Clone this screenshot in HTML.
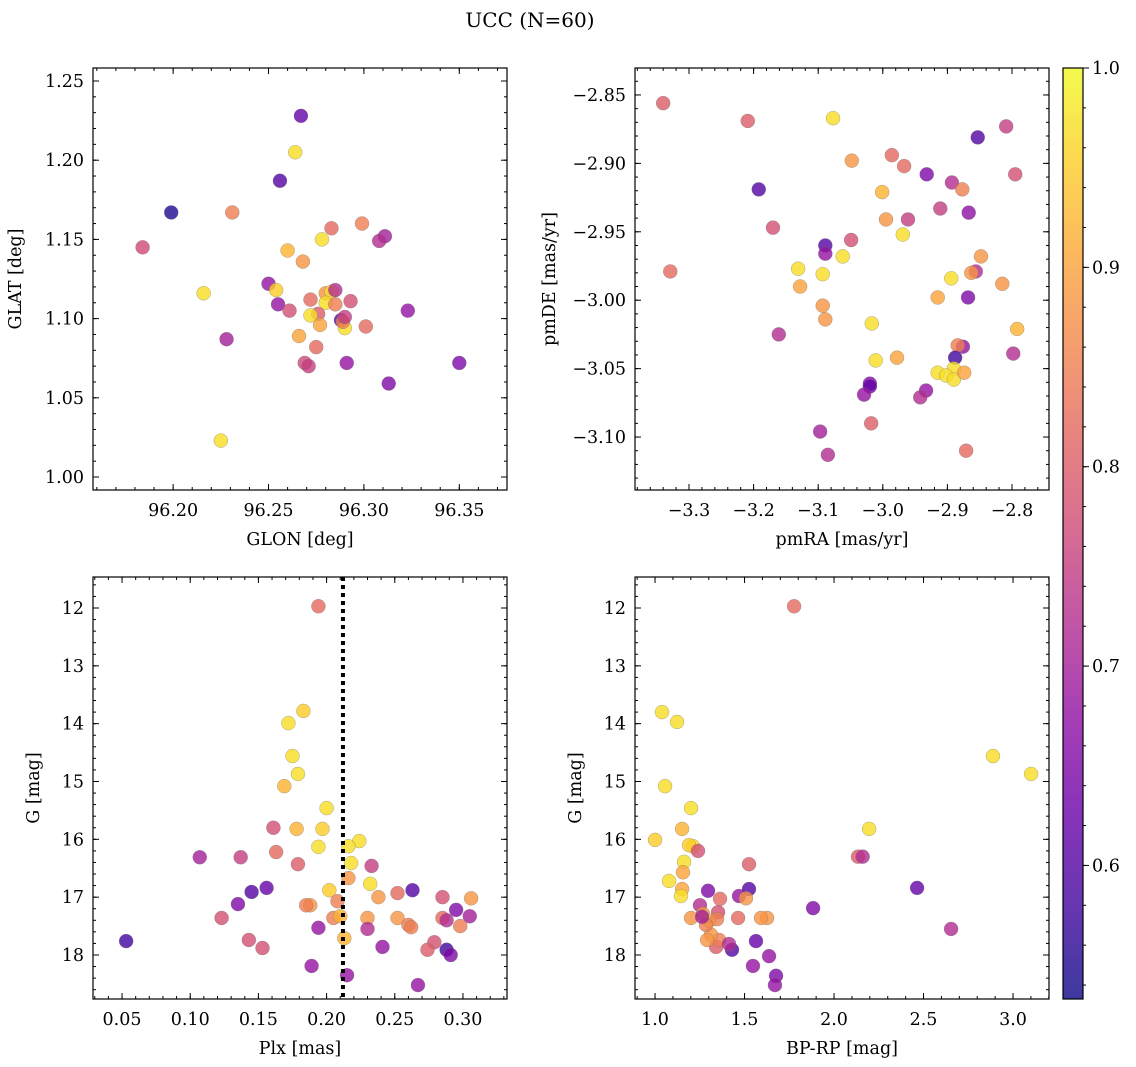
<!DOCTYPE html>
<html><head><meta charset="utf-8"><style>
body{margin:0;background:#fff;}
svg{display:block;font-family:"DejaVu Serif","Liberation Serif",serif;}
</style></head><body>
<svg id="fig" width="1136" height="1067" viewBox="0 0 1136 1067" xmlns="http://www.w3.org/2000/svg">
<text x="530" y="27" font-size="20" text-anchor="middle">UCC (N=60)</text>
</svg>
<script>
// ---- Panel 1: GLON / GLAT
const p1x=[96.267,96.264,96.256,96.199,96.231,96.184,96.216,96.228,96.225,96.283,96.278,96.260,96.268,96.299,96.311,96.308,96.250,96.254,96.255,96.261,96.272,96.280,96.283,96.285,96.280,96.276,96.272,96.266,96.275,96.269,96.271,96.288,96.290,96.289,96.293,96.301,96.291,96.313,96.323,96.350,96.285,96.277,96.290];
const p1y=[1.228,1.205,1.187,1.167,1.167,1.145,1.116,1.087,1.023,1.157,1.150,1.143,1.136,1.160,1.152,1.149,1.122,1.118,1.109,1.105,1.112,1.116,1.117,1.118,1.110,1.103,1.102,1.089,1.082,1.072,1.070,1.099,1.094,1.098,1.111,1.095,1.072,1.059,1.105,1.072,1.109,1.096,1.101];
const p1c=[0.62,0.97,0.6,0.55,0.85,0.77,0.97,0.7,0.97,0.82,0.97,0.92,0.88,0.85,0.7,0.72,0.68,0.95,0.68,0.78,0.82,0.88,0.97,0.72,0.97,0.8,0.97,0.9,0.82,0.77,0.75,0.6,0.97,0.85,0.78,0.82,0.68,0.65,0.68,0.65,0.85,0.9,0.75];
// ---- Panel 2: pmRA / pmDE
const p2x=[-3.340,-3.209,-3.077,-2.853,-2.809,-3.192,-3.048,-2.986,-2.967,-2.932,-2.893,-2.877,-2.795,-3.001,-2.911,-2.867,-2.961,-2.995,-3.170,-3.049,-2.969,-3.089,-3.089,-3.062,-2.848,-3.329,-3.131,-3.093,-2.856,-2.894,-2.863,-3.128,-2.815,-2.915,-2.868,-3.093,-3.089,-3.017,-2.792,-3.161,-2.876,-2.884,-2.798,-3.011,-2.978,-2.888,-2.890,-2.915,-2.902,-2.890,-2.874,-3.020,-3.020,-2.933,-2.942,-3.029,-3.018,-3.097,-3.085,-2.871];
const p2y=[-2.856,-2.869,-2.867,-2.881,-2.873,-2.919,-2.898,-2.894,-2.902,-2.908,-2.914,-2.919,-2.908,-2.921,-2.933,-2.936,-2.941,-2.941,-2.947,-2.956,-2.952,-2.960,-2.966,-2.968,-2.968,-2.979,-2.977,-2.981,-2.979,-2.984,-2.980,-2.990,-2.988,-2.998,-2.998,-3.004,-3.014,-3.017,-3.021,-3.025,-3.034,-3.033,-3.039,-3.044,-3.042,-3.042,-3.050,-3.053,-3.055,-3.058,-3.053,-3.061,-3.063,-3.066,-3.071,-3.069,-3.090,-3.096,-3.113,-3.110];
const p2c=[0.8,0.8,0.97,0.6,0.75,0.6,0.88,0.82,0.82,0.65,0.72,0.85,0.78,0.92,0.75,0.67,0.75,0.88,0.78,0.78,0.97,0.6,0.68,0.97,0.88,0.82,0.97,0.97,0.72,0.97,0.88,0.9,0.88,0.9,0.65,0.88,0.88,0.97,0.92,0.72,0.68,0.85,0.72,0.97,0.9,0.58,0.97,0.97,0.97,0.97,0.9,0.65,0.62,0.68,0.72,0.68,0.8,0.7,0.72,0.82];
// ---- Panel 3: Plx / G
const p3x=[0.053,0.194,0.183,0.172,0.175,0.179,0.169,0.200,0.161,0.178,0.197,0.224,0.216,0.194,0.163,0.107,0.137,0.218,0.179,0.233,0.216,0.232,0.156,0.263,0.145,0.202,0.252,0.238,0.285,0.306,0.188,0.185,0.135,0.208,0.285,0.295,0.305,0.288,0.252,0.230,0.205,0.210,0.123,0.260,0.262,0.298,0.194,0.230,0.213,0.143,0.153,0.241,0.279,0.274,0.288,0.291,0.189,0.215,0.267];
const p3y=[17.76,11.97,13.78,13.99,14.56,14.87,15.08,15.46,15.80,15.82,15.82,16.03,16.12,16.13,16.22,16.31,16.31,16.41,16.43,16.46,16.67,16.77,16.84,16.88,16.91,16.88,16.93,17.00,17.00,17.02,17.14,17.14,17.12,17.07,17.36,17.22,17.33,17.40,17.36,17.36,17.36,17.33,17.36,17.48,17.52,17.50,17.53,17.55,17.71,17.74,17.88,17.86,17.78,17.91,17.91,18.00,18.19,18.35,18.52];
const p3c=[0.58,0.82,0.95,0.97,0.97,0.97,0.92,0.97,0.78,0.92,0.95,0.97,0.97,0.97,0.82,0.7,0.75,0.97,0.8,0.75,0.88,0.97,0.62,0.6,0.6,0.95,0.82,0.88,0.78,0.88,0.88,0.85,0.65,0.85,0.82,0.65,0.7,0.72,0.88,0.88,0.85,0.92,0.78,0.85,0.85,0.85,0.68,0.72,0.92,0.78,0.78,0.68,0.78,0.8,0.58,0.65,0.68,0.68,0.68];
const plxLine=0.212;
// ---- Panel 4: BP-RP / G
const p4x=[1.777,1.039,1.123,1.056,1.000,1.201,1.151,1.212,1.190,1.240,1.078,1.162,1.156,1.151,1.145,1.296,1.469,1.363,1.251,1.352,1.201,1.268,1.302,1.346,1.464,1.626,1.883,1.525,1.525,1.508,1.592,1.564,1.637,1.547,1.676,1.670,1.430,1.341,1.358,1.413,1.313,1.285,1.291,1.263,2.134,2.160,2.196,2.464,2.654,2.888,3.101];
const p4y=[11.97,13.80,13.97,15.08,16.01,15.46,15.82,16.12,16.10,16.20,16.72,16.39,16.57,16.86,16.98,16.89,16.98,17.03,17.14,17.26,17.36,17.29,17.41,17.38,17.36,17.36,17.19,16.43,16.86,17.02,17.36,17.76,18.02,18.19,18.36,18.52,17.91,17.86,17.74,17.81,17.65,17.48,17.74,17.34,16.30,16.30,15.82,16.84,17.55,14.56,14.87];
const p4c=[0.82,0.97,0.97,0.97,0.95,0.97,0.92,0.97,0.95,0.78,0.97,0.97,0.9,0.9,0.97,0.65,0.68,0.82,0.72,0.78,0.88,0.88,0.95,0.85,0.82,0.88,0.65,0.8,0.6,0.88,0.88,0.62,0.68,0.68,0.65,0.68,0.6,0.8,0.85,0.72,0.88,0.85,0.88,0.7,0.8,0.72,0.97,0.62,0.72,0.97,0.97];
// ---- Colorbar
const cbTicks=[0.6,0.7,0.8,0.9,1.0];
const cbMin=0.533, cbMax=1.0;

const NS="http://www.w3.org/2000/svg";
const svg=document.getElementById('fig');
function el(tag,attrs,parent){const e=document.createElementNS(NS,tag);for(const k in attrs)e.setAttribute(k,attrs[k]);(parent||svg).appendChild(e);return e;}
const plasma=[[13,8,135],[65,4,157],[106,0,168],[143,13,164],[177,42,144],[204,71,120],[225,100,98],[242,132,75],[252,166,54],[252,206,37],[240,249,33]];
function cmap(v){let t=(v-cbMin)/(cbMax-cbMin);t=Math.max(0,Math.min(1,t));const f=t*(plasma.length-1);const i=Math.min(plasma.length-2,Math.floor(f));const r=f-i;const a=plasma[i],b=plasma[i+1];return 'rgb('+a.map((c,j)=>Math.round(c+(b[j]-c)*r)).join(',')+')';}
function rng(a,b,s){const out=[];const n=Math.round((b-a)/s);for(let i=0;i<=n;i++)out.push(+(a+i*s).toFixed(6));return out;}

function panel(c){
  const g=el('g',{});
  
  
  const sx=v=>c.L+(v-c.x0)/(c.x1-c.x0)*(c.R-c.L);
  const sy=c.inv?(v=>c.T+(v-c.y0)/(c.y1-c.y0)*(c.B-c.T)):(v=>c.B-(v-c.y0)/(c.y1-c.y0)*(c.B-c.T));
  const pg=el('g',{},g);
  
  
  for(let i=0;i<c.xs.length;i++){
    const p=el('circle',{cx:sx(c.xs[i]),cy:sy(c.ys[i]),r:7,fill:cmap(c.cs[i]),'fill-opacity':0.8,stroke:'#777','stroke-width':0.5,'stroke-opacity':0.6},pg);
    
    
  }
  if(c.vline!==undefined){
    const l=el('line',{x1:sx(c.vline),x2:sx(c.vline),y1:c.T,y2:c.B,stroke:'#000','stroke-width':4,'stroke-dasharray':'4,4'},g);
    
    
  }
  const tk=el('g',{stroke:'#000','stroke-width':1},g);
  c.xmin.forEach(v=>{const x=sx(v);if(x<c.L||x>c.R)return;el('line',{x1:x,x2:x,y1:c.B,y2:c.B-3},tk);el('line',{x1:x,x2:x,y1:c.T,y2:c.T+3},tk);});
  c.ymin.forEach(v=>{const y=sy(v);if(y<c.T||y>c.B)return;el('line',{x1:c.L,x2:c.L+3,y1:y,y2:y},tk);el('line',{x1:c.R,x2:c.R-3,y1:y,y2:y},tk);});
  c.xt.forEach((v,i)=>{const x=sx(v);el('line',{x1:x,x2:x,y1:c.B,y2:c.B-6},tk);el('line',{x1:x,x2:x,y1:c.T,y2:c.T+6},tk);
    const t=el('text',{x:x,y:c.B+26,'font-size':17.5,'text-anchor':'middle'},g);t.textContent=c.xl[i];
    });
  c.yt.forEach((v,i)=>{const y=sy(v);el('line',{x1:c.L,x2:c.L+6,y1:y,y2:y},tk);el('line',{x1:c.R,x2:c.R-6,y1:y,y2:y},tk);
    const t=el('text',{x:c.L-9,y:y+6,'font-size':17.5,'text-anchor':'end'},g);t.textContent=c.yl[i];
    });
  const fr=el('rect',{x:c.L,y:c.T,width:c.R-c.L,height:c.B-c.T,fill:'none',stroke:'#000','stroke-width':1.2},g);
  
  const xt=el('text',{x:(c.L+c.R)/2,y:c.B+55,'font-size':17.5,'text-anchor':'middle'},g);xt.textContent=c.xlab;
  
  const yx=c.L-c.ylo;const yy=(c.T+c.B)/2;
  const yt=el('text',{x:yx,y:yy,'font-size':17.5,'text-anchor':'middle',transform:'rotate(-90 '+yx+' '+yy+')'},g);yt.textContent=c.ylab;
  
}
const fmt=(a,d)=>a.map(v=>v.toFixed(d).replace('-','\u2212'));
let t;
t=rng(96.20,96.35,0.05);let y1=rng(1.00,1.25,0.05);
panel({name:'glon-glat-panel',L:93,R:507,T:68,B:490,x0:96.158,x1:96.375,y0:0.9918,y1:1.2582,xs:p1x,ys:p1y,cs:p1c,
 xt:t,xl:fmt(t,2),yt:y1,yl:fmt(y1,2),xmin:rng(96.16,96.37,0.01),ymin:rng(0.99,1.26,0.01),xlab:'GLON [deg]',ylab:'GLAT [deg]',ylo:72});
t=rng(-3.3,-2.8,0.1);let y2=rng(-3.10,-2.85,0.05);
panel({name:'pmra-pmde-panel',L:635,R:1049,T:68,B:490,x0:-3.3836,x1:-2.7427,y0:-3.1387,y1:-2.8303,xs:p2x,ys:p2y,cs:p2c,
 xt:t,xl:fmt(t,1),yt:y2,yl:fmt(y2,2),xmin:rng(-3.38,-2.74,0.02),ymin:rng(-3.13,-2.83,0.01),xlab:'pmRA [mas/yr]',ylab:'pmDE [mas/yr]',ylo:80});
t=rng(0.05,0.30,0.05);let y3=rng(12,18,1);
panel({name:'plx-g-panel',L:93,R:507,T:577,B:999,x0:0.0287,x1:0.3323,y0:11.464,y1:18.761,inv:true,xs:p3x,ys:p3y,cs:p3c,vline:plxLine,
 xt:t,xl:fmt(t,2),yt:y3,yl:y3.map(String),xmin:rng(0.03,0.33,0.01),ymin:rng(11.6,18.6,0.2),xlab:'Plx [mas]',ylab:'G [mag]',ylo:54});
t=rng(1.0,3.0,0.5);
panel({name:'bprp-g-panel',L:635,R:1049,T:577,B:999,x0:0.888,x1:3.201,y0:11.464,y1:18.761,inv:true,xs:p4x,ys:p4y,cs:p4c,
 xt:t,xl:fmt(t,1),yt:y3,yl:y3.map(String),xmin:rng(0.9,3.2,0.1),ymin:rng(11.6,18.6,0.2),xlab:'BP-RP [mag]',ylab:'G [mag]',ylo:54});
const cb=el('g',{});


const CL=1063,CR=1083,CT=68,CB=999;
const defs=el('defs',{},cb);const gr=el('linearGradient',{id:'cbg',x1:0,y1:1,x2:0,y2:0},defs);
plasma.forEach((c,i)=>el('stop',{offset:i/(plasma.length-1),'stop-color':'rgb('+c.join(',')+')'},gr));
el('rect',{x:CL,y:CT,width:CR-CL,height:CB-CT,fill:'url(#cbg)','fill-opacity':0.8},cb);
el('rect',{x:CL,y:CT,width:CR-CL,height:CB-CT,fill:'none',stroke:'#000','stroke-width':1.2},cb);
const cy=v=>CB-(v-cbMin)/(cbMax-cbMin)*(CB-CT);
rng(0.54,1.0,0.02).forEach(v=>el('line',{x1:CR,x2:CR+3,y1:cy(v),y2:cy(v),stroke:'#000'},cb));
cbTicks.forEach(v=>{el('line',{x1:CR,x2:CR+6,y1:cy(v),y2:cy(v),stroke:'#000'},cb);
 const tx=el('text',{x:CR+9,y:cy(v)+6,'font-size':17.5},cb);tx.textContent=v.toFixed(1);
 });
</script>
</body></html>
